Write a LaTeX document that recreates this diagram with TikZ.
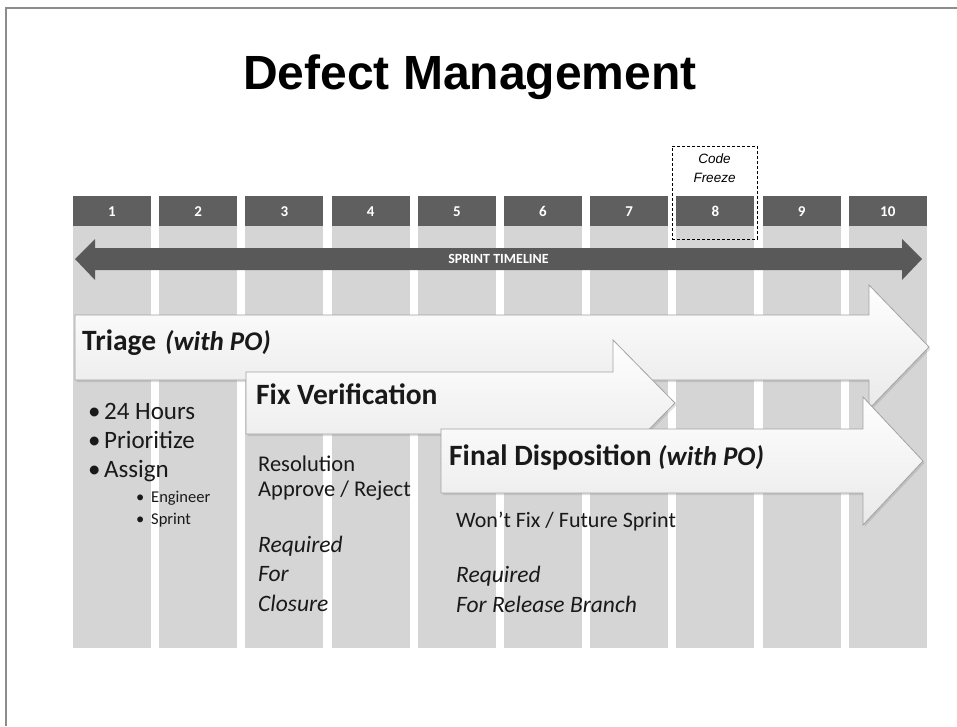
\documentclass[tikz,border=0pt]{standalone}
\usepackage{fontspec}
\setmainfont{Carlito}
\newfontfamily\fuenteTitulo{Liberation Sans}
\usetikzlibrary{positioning, shadows, calc}
\definecolor{grisCabecera}{HTML}{5F5F5F}
\definecolor{grisColumna}{HTML}{D5D5D5}
\definecolor{grisLinea}{HTML}{595959}
\definecolor{grisFlecha}{HTML}{F0F0F0}
\definecolor{grisBorde}{HTML}{A3A3A3}
\definecolor{grisMarco}{HTML}{8C8C8C}
\colorlet{colTexto}{black!90}
\tikzset{
  cabecera/.style={
    fill=grisCabecera, text=white, inner sep=0pt, outer sep=0pt,
    minimum width=78pt, minimum height=30pt, text height=10pt, text depth=0pt,
    font=\fontsize{15}{15}\selectfont\bfseries
  },
  columna/.style={fill=grisColumna, inner sep=0pt, outer sep=0pt,
    minimum width=78pt, minimum height=422pt},
  flechaFase/.style={draw=grisBorde, line width=0.8pt,
    top color=white!96!grisFlecha, bottom color=grisFlecha!94!gray,
    drop shadow={shadow xshift=1.5pt, shadow yshift=-2pt, opacity=0.25}},
  etiquetaFase/.style={anchor=base west, inner sep=0pt, text=colTexto,
    font=\fontsize{29.5}{31}\selectfont\bfseries},
  notaTexto/.style={anchor=base west, inner sep=0pt, align=left, text=colTexto},
}
\newcommand{\conPO}{{\fontsize{27}{29}\selectfont\itshape (with PO)}}
\begin{document}
\begin{tikzpicture}[x=1pt, y=-1pt]
  \useasboundingbox (0,0) rectangle (957,726);
  \fill[white] (0,0) rectangle (957,726);
  \draw[grisMarco, line width=2pt] (6,726) -- (6,8) -- (957,8);

  \node[font=\fuenteTitulo\bfseries\fontsize{48}{52}\selectfont, anchor=base, text=black]
    (titulo) at (470,89) {Defect Management};

  % sprint columns
  \node[cabecera] (h1) at (112,211) {1};
  \foreach \i [count=\j] in {2,...,10}
    \node[cabecera, right=8.2pt of h\j] (h\i) {\i};
  \foreach \i in {1,...,10}
    \node[columna, below=0pt of h\i] (c\i) {};

  % timeline
  \coordinate (tlIzq) at (75,259);
  \coordinate (tlDer) at (922,259);
  \fill[grisLinea] (tlIzq) -- ++(20,-20) -- ++(0,9) -- ($(tlDer)+(-20,-11)$)
    -- ++(0,-9) -- (tlDer) -- ++(-20,21) -- ++(0,-10) -- ($(tlIzq)+(20,11)$)
    -- ++(0,10) -- cycle;
  \node[text=white, font=\fontsize{14}{14}\selectfont\bfseries] (linea)
    at ($(tlIzq)!0.5!(tlDer)$) {SPRINT TIMELINE};

  \node[draw=black, dash pattern=on 3pt off 2pt, line width=1pt,
    minimum width=85pt, minimum height=93pt, inner sep=0pt] (congelar) at (714.5,192.5) {};
  \node[below=8pt of congelar.north, align=center, inner sep=0pt,
    font=\fuenteTitulo\itshape\fontsize{13.5}{19}\selectfont] (congelarTxt) {Code\\Freeze};

  % phases
  \draw[flechaFase] (75,315) -- (869,315) -- (869,285) -- (929,347) -- (869,409)
    -- (869,380) -- (75,380) -- cycle;
  \draw[flechaFase] (246,372) -- (613,372) -- (613,340) -- (675,403) -- (613,466)
    -- (613,434) -- (246,434) -- cycle;
  \draw[flechaFase] (441,429) -- (863,429) -- (863,397) -- (923,461) -- (863,525)
    -- (863,493) -- (441,493) -- cycle;

  \node[etiquetaFase] (triage) at (82,350) {Triage\hspace{9pt}\conPO};
  \node[etiquetaFase] (verificar) at (256,404) {Fix Verification};
  \node[etiquetaFase] (disposicion) at (449,465) {Final Disposition \conPO};

  % notes (anchored at the baseline of their last line)
  \node[notaTexto, font=\fontsize{25}{29}\selectfont] (notaTriage) at (88,477)
    {\makebox[16pt][l]{\textbullet}24 Hours\\\makebox[16pt][l]{\textbullet}Prioritize\\\makebox[16pt][l]{\textbullet}Assign};
  \node[notaTexto, font=\fontsize{16.5}{22}\selectfont] (notaAsignar) at (136,524)
    {\makebox[15pt][l]{\textbullet}Engineer\\\makebox[15pt][l]{\textbullet}Sprint};
  \node[notaTexto, font=\fontsize{22.5}{25}\selectfont] (notaVerificar) at (258,496)
    {Resolution\\Approve / Reject};
  \node[notaTexto, font=\fontsize{23.5}{29.5}\selectfont\itshape] (notaCierre) at (258,611)
    {Required\\For\\Closure};
  \node[notaTexto, font=\fontsize{22}{25}\selectfont] (notaDisposicion) at (456,527)
    {Won’t Fix / Future Sprint};
  \node[notaTexto, font=\fontsize{23.5}{30}\selectfont\itshape] (notaRama) at (456,612)
    {Required\\For Release Branch};
\end{tikzpicture}
\end{document}
